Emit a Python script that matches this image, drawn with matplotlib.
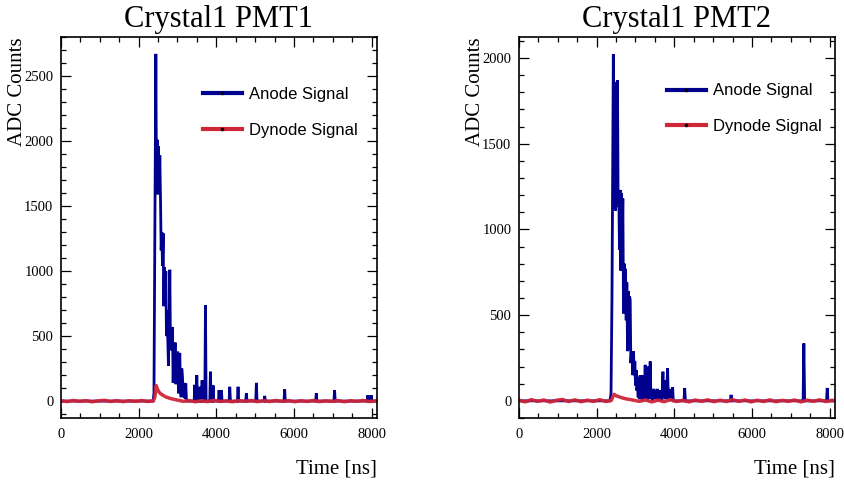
import matplotlib
matplotlib.use("Agg")
import matplotlib.pyplot as plt
from matplotlib.ticker import MultipleLocator
from matplotlib.lines import Line2D

# ---------------- data ----------------
titles = ["Crystal1 PMT1", "Crystal1 PMT2"]
series_labels = ["Anode Signal", "Dynode Signal"]
x_label = "Time [ns]"
y_label = "ADC Counts"

# Crystal1 PMT1 - anode (time ns, ADC counts)
anode1_t = [0, 2370, 2395, 2443, 2460, 2477, 2494, 2511, 2528, 2545, 2563, 2580, 2597,
            2614, 2631, 2648, 2665, 2682, 2700, 2717, 2734, 2751, 2768, 2785, 2803, 2820,
            2837, 2854, 2871, 2889, 2906, 2923, 2940, 2957, 2974, 2991, 3008, 3026, 3043,
            3060, 3077, 3094, 3111, 3128, 3145, 3163, 3180, 3197, 3214, 3231, 3250,
            3430, 3447, 3465, 3482, 3498, 3515, 3560, 3575, 3592, 3618, 3635, 3652,
            3705, 3721, 3738, 3832, 3849, 3866, 3900, 3918, 3935, 4055, 4072, 4089,
            4115, 4132, 4149, 4330, 4347, 4364, 4544, 4561, 4578, 4758, 4775, 4792,
            5016, 5033, 5050, 5230, 5247, 5264, 5744, 5761, 5778, 6559, 6576, 6593,
            7030, 7047, 7064, 7888, 7905, 7922, 7973, 7990, 8007, 8140]
anode1_v = [0, 0, 60, 2670, 1600, 2010, 1590, 1960, 1620, 1890, 1560, 1160, 1300,
            1040, 1290, 730, 1030, 760, 1000, 500, 700, 470, 270, 580, 1010, 400,
            560, 390, 570, 140, 440, 300, 450, 130, 320, 240, 380, 60, 270,
            370, 110, 30, 250, 190, 60, 30, 140, 20, 135, 10, 0,
            0, 125, 0, 0, 200, 0, 0, 110, 0, 0, 160, 0,
            0, 738, 0, 0, 226, 0, 0, 120, 0, 0, 85, 0,
            0, 85, 0, 0, 110, 0, 0, 110, 0, 0, 60, 0,
            0, 140, 0, 0, 40, 0, 0, 90, 0, 0, 60, 0,
            0, 85, 0, 0, 45, 0, 0, 45, 0, 0]

# Crystal1 PMT1 - dynode
dynode1_t = [0, 160, 320, 480, 640, 800, 960, 1120, 1280, 1440, 1600, 1760, 1920, 2080,
             2240, 2380, 2420, 2450, 2480, 2520, 2560, 2620, 2700, 2800, 2900, 3000,
             3150, 3300, 3460, 3620, 3780, 3940, 4100, 4260, 4420, 4580, 4740, 4900,
             5060, 5220, 5380, 5540, 5700, 5860, 6020, 6180, 6340, 6500, 6660, 6820,
             6980, 7140, 7300, 7460, 7620, 7780, 7940, 8140]
dynode1_v = [3, -4, 5, -2, 4, -5, 2, 6, -3, 4, -4, 3, -2, 5,
             -3, 2, 35, 120, 95, 72, 58, 46, 32, 22, 14, 8,
             -2, 4, -5, 3, -4, 6, -3, 2, -5, 4, -2, 5,
             -4, 3, -3, 5, -2, 4, -5, 3, -3, 5, -4, 2,
             -2, 4, -5, 3, -2, 5, -3, 2]

# Crystal1 PMT2 - anode
anode2_t = [0, 2340, 2370, 2395, 2430, 2450, 2468, 2486, 2503, 2520, 2537, 2554, 2571,
            2588, 2606, 2623, 2640, 2658, 2675, 2692, 2710, 2727, 2744, 2761, 2778, 2796,
            2813, 2830, 2847, 2864, 2881, 2898, 2916, 2933, 2950, 2967, 2984, 3001, 3018,
            3036, 3053, 3070, 3087, 3104, 3123, 3140, 3160, 3180, 3208, 3225, 3251, 3268,
            3290, 3310, 3337, 3355, 3380, 3398, 3420, 3440, 3470, 3490, 3510, 3530, 3560,
            3580, 3600, 3630, 3660, 3680, 3708, 3725, 3745, 3765, 3800, 3828, 3845, 3870,
            3890, 3930, 3957, 3975, 4250, 4268, 4286, 5445, 5463, 5481, 7318, 7338, 7358,
            7922, 7940, 7958, 8140]
anode2_v = [0, 0, 40, 600, 2023, 1120, 1830, 1110, 1860, 1140, 1870, 1130, 1200,
            880, 1230, 760, 1210, 920, 1180, 510, 800, 540, 770, 470, 690, 290,
            640, 300, 610, 590, 220, 280, 240, 150, 290, 150, 230, 90, 180,
            60, 100, 20, 140, 10, 150, 10, 80, 0, 150, 20, 210, 10,
            40, 0, 200, 20, 230, 10, 60, 0, 70, 10, 60, 10, 70,
            0, 60, 10, 60, 0, 170, 20, 120, 10, 30, 190, 10, 70,
            0, 20, 80, 0, 0, 75, 0, 0, 35, 0, 0, 335, 0,
            0, 75, 0, 0]

# Crystal1 PMT2 - dynode
dynode2_t = [0, 160, 320, 480, 640, 800, 960, 1120, 1280, 1440, 1600, 1760, 1920, 2080,
             2240, 2380, 2410, 2450, 2500, 2560, 2650, 2750, 2900, 3100, 3260, 3420,
             3580, 3740, 3900, 4060, 4220, 4380, 4540, 4700, 4860, 5020, 5180, 5340,
             5500, 5660, 5820, 5980, 6140, 6300, 6460, 6620, 6780, 6940, 7100, 7260,
             7420, 7580, 7740, 7900, 8060, 8140]
dynode2_v = [4, -6, 7, -3, 5, -7, 3, 8, -4, 6, -5, 4, -3, 7,
             -4, 3, 20, 38, 30, 25, 18, 12, 6, -3, 5, -6,
             4, -5, 7, -4, 3, -6, 5, -3, 6, -5, 4, -4,
             7, -3, 5, -6, 4, -4, 6, -5, 3, -3, 5, -6,
             4, -3, 6, -4, 3, 2]

panels = [
    (anode1_t, anode1_v, dynode1_t, dynode1_v, (-130, 2800), 500),
    (anode2_t, anode2_v, dynode2_t, dynode2_v, (-100, 2122), 500),
]

# ---------------- style ----------------
anode_color = "#00008f"
dynode_color = "#cf2638"
serif = "Liberation Serif"
sans = "Liberation Sans"

fig = plt.figure(figsize=(8.44, 4.83), dpi=100)
fig.patch.set_facecolor("white")

axes_rects = [
    [61 / 844, 65 / 483, 316 / 844, 381 / 483],
    [519 / 844, 65 / 483, 316 / 844, 381 / 483],
]
legend_anchor = [(0.449, 0.869), (0.468, 0.878)]

for i, (at, av, dt, dv, ylim, ymaj) in enumerate(panels):
    ax = fig.add_axes(axes_rects[i])
    ax.plot(at, av, color=anode_color, lw=2.0, solid_joinstyle="miter")
    ax.plot(dt, dv, color=dynode_color, lw=2.5, alpha=0.95)
    ax.set_xlim(0, 8140)
    ax.set_ylim(*ylim)

    ax.xaxis.set_major_locator(MultipleLocator(2000))
    ax.xaxis.set_minor_locator(MultipleLocator(500))
    ax.yaxis.set_major_locator(MultipleLocator(ymaj))
    ax.yaxis.set_minor_locator(MultipleLocator(100))
    ax.tick_params(which="both", direction="in", top=True, right=True, width=0.9,
                   color="black")
    ax.tick_params(which="major", length=7.2)
    ax.tick_params(which="minor", length=3.6)
    ax.tick_params(axis="x", which="major", pad=7.5)
    ax.tick_params(axis="y", which="major", pad=5.5)
    for lab in ax.get_xticklabels() + ax.get_yticklabels():
        lab.set_fontfamily(serif)
        lab.set_fontsize(10.5)
    for sp in ax.spines.values():
        sp.set_linewidth(1.2)

    ax.set_title(titles[i], fontsize=22, family=serif, pad=7)
    ax.set_ylabel(y_label, fontsize=15, family=serif, loc="top")
    ax.yaxis.set_label_coords(-0.108, 1.0)
    ax.set_xlabel(x_label, fontsize=15, family=serif, loc="right")
    ax.xaxis.set_label_coords(1.0, -0.11)

    handles = [
        Line2D([], [], color=anode_color, lw=3.0, marker="o", ms=1.6,
               mfc="black", mec="black"),
        Line2D([], [], color=dynode_color, lw=3.0, marker="o", ms=1.6,
               mfc="black", mec="black"),
    ]
    ax.legend(handles, series_labels, loc="upper left",
              bbox_to_anchor=legend_anchor[i], frameon=False,
              prop={"family": sans, "size": 12}, handlelength=2.35,
              handletextpad=0.4, labelspacing=1.25, borderpad=0,
              borderaxespad=0, numpoints=1)

fig.savefig("out.png", dpi=100)
